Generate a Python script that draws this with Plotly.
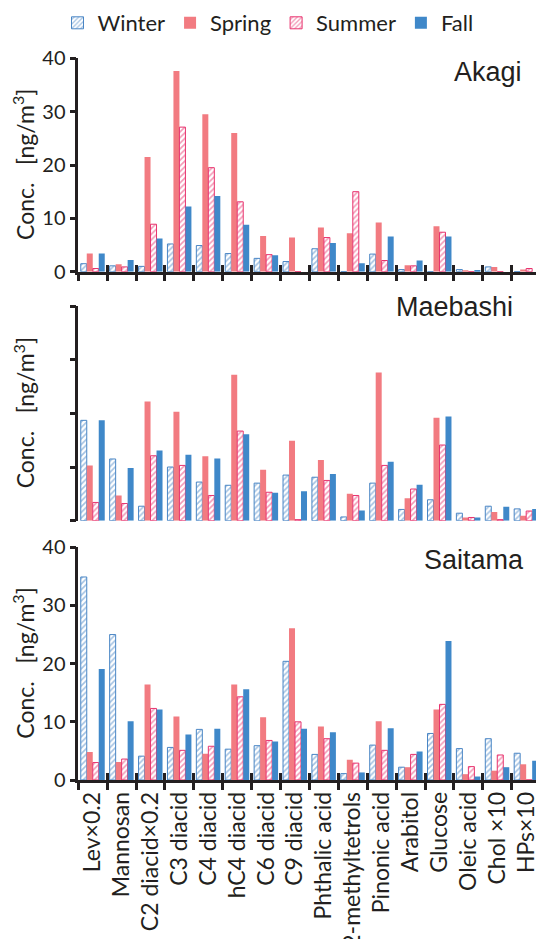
import plotly.graph_objects as go

categories = ["Lev×0.2", "Mannosan", "C2 diacid×0.2", "C3 diacid", "C4 diacid",
              "hC4 diacid", "C6 diacid", "C9 diacid", "Phthalic acid", "2-methyltetrols",
              "Pinonic acid", "Arabitol", "Glucose", "Oleic acid", "Chol ×10", "HPs×10"]
seasons = ["Winter", "Spring", "Summer", "Fall"]

akagi_winter = [1.5, 1.1, 1.0, 5.2, 4.9, 3.4, 2.5, 1.9, 4.3, 0.0, 3.3, 0.4, 0.0, 0.4, 0.9, 0.0]
akagi_spring = [3.4, 1.4, 21.5, 37.6, 29.5, 26.0, 6.7, 6.4, 8.3, 7.2, 9.2, 1.2, 8.5, 0.1, 0.9, 0.4]
akagi_summer = [0.6, 0.9, 8.9, 27.1, 19.5, 13.1, 3.2, 0.0, 6.4, 15.0, 2.1, 1.1, 7.4, 0.0, 0.0, 0.6]
akagi_fall = [3.4, 2.2, 6.2, 12.2, 14.2, 8.8, 3.1, 0.0, 5.4, 1.6, 6.6, 2.1, 6.6, 0.3, 0.0, 0.0]

maebashi_winter = [18.7, 11.5, 2.7, 10.0, 7.2, 6.6, 7.0, 8.5, 8.1, 0.7, 7.0, 2.1, 3.9, 1.4, 2.7, 2.2]
maebashi_spring = [10.3, 4.7, 22.2, 20.3, 12.0, 27.2, 9.5, 14.9, 11.3, 5.0, 27.6, 4.2, 19.2, 0.6, 1.6, 0.9]
maebashi_summer = [3.4, 3.2, 12.1, 10.3, 4.7, 16.7, 5.3, 0.2, 7.5, 4.7, 10.3, 5.9, 14.1, 0.6, 0.2, 1.8]
maebashi_fall = [18.7, 9.8, 13.1, 12.3, 11.6, 16.1, 5.2, 5.5, 8.7, 1.9, 11.0, 6.7, 19.4, 0.6, 2.6, 2.2]

saitama_winter = [34.9, 25.0, 4.1, 5.6, 8.7, 5.3, 5.9, 20.4, 4.4, 1.1, 6.0, 2.2, 8.0, 5.4, 7.1, 4.6]
saitama_spring = [4.8, 3.1, 16.4, 10.9, 4.5, 16.4, 10.8, 26.1, 9.2, 3.5, 10.1, 2.2, 12.1, 1.0, 1.6, 2.7]
saitama_summer = [3.0, 3.6, 12.3, 5.1, 5.8, 14.3, 6.8, 10.0, 7.1, 2.9, 5.1, 4.4, 13.0, 2.3, 4.3, 0.0]
saitama_fall = [19.1, 10.1, 12.1, 7.8, 8.8, 15.6, 6.6, 8.8, 8.2, 1.3, 8.9, 4.9, 23.9, 0.6, 2.2, 3.3]

y_ticks = [0, 10, 20, 30, 40]
site_names = ["Akagi", "Maebashi", "Saitama"]

panels = [
    (akagi_winter, akagi_spring, akagi_summer, akagi_fall),
    (maebashi_winter, maebashi_spring, maebashi_summer, maebashi_fall),
    (saitama_winter, saitama_spring, saitama_summer, saitama_fall),
]

WINTER_C = "#4A86C5"
SPRING_C = "#F27B81"
SUMMER_C = "#E8336E"
FALL_C = "#3F88C9"
INK = "#231F20"
FONT = "Lato"

def season_marker(season):
    if season == "Winter":
        return dict(color="white", line=dict(color=WINTER_C, width=1),
                    pattern=dict(shape="/", fgcolor=WINTER_C, bgcolor="white", size=4, solidity=0.4))
    if season == "Spring":
        return dict(color=SPRING_C, line=dict(width=0))
    if season == "Summer":
        return dict(color="white", line=dict(color=SUMMER_C, width=1),
                    pattern=dict(shape="/", fgcolor=SUMMER_C, bgcolor="white", size=4, solidity=0.4))
    return dict(color=FALL_C, line=dict(width=0))

fig = go.Figure()
axis_ids = [("x", "y"), ("x2", "y2"), ("x3", "y3")]
for p, vals in enumerate(panels):
    xa, ya = axis_ids[p]
    for s, season in enumerate(seasons):
        fig.add_trace(go.Bar(
            x=categories, y=vals[s], name=season, xaxis=xa, yaxis=ya,
            marker=season_marker(season), showlegend=(p == 0),
            legendgroup=season,
        ))

# helper traces for inner tick halves of x axes (top and bottom panels)
fig.add_trace(go.Scatter(x=categories, y=[None] * len(categories), xaxis="x4", yaxis="y",
                         showlegend=False, hoverinfo="skip", mode="markers"))
fig.add_trace(go.Scatter(x=categories, y=[None] * len(categories), xaxis="x5", yaxis="y3",
                         showlegend=False, hoverinfo="skip", mode="markers"))

W, H = 536, 939
x_dom = [78.3 / W, 1.0]
x_rng = [-0.5, 15.34]

def ydom(top_px, bot_px):
    return [1 - bot_px / H, 1 - top_px / H]

doms = [ydom(58.3, 271.7), ydom(306.0, 520.7), ydom(547.3, 780.0)]

xbase = dict(type="category", categoryorder="array", categoryarray=categories,
             domain=x_dom, range=x_rng, showgrid=False, zeroline=False,
             tickson="boundaries", linecolor=INK, linewidth=2.5,
             tickcolor=INK, tickwidth=2.5, ticklen=7, automargin=False,
             tickfont=dict(family=FONT, size=23, color=INK), tickangle=-90)

ybase = dict(range=[0, 40], tickvals=y_ticks, showgrid=False, zeroline=False,
             showline=True, linecolor=INK, linewidth=2.5, ticks="outside",
             tickcolor=INK, tickwidth=2.5, ticklen=6, automargin=False,
             tickfont=dict(family=FONT, size=20, color=INK))

fig.update_layout(
    xaxis=dict(xbase, anchor="y", showline=True, ticks="outside", showticklabels=False),
    xaxis2=dict(xbase, anchor="y2", showline=False, ticks="", showticklabels=False),
    xaxis3=dict(xbase, anchor="y3", showline=True, ticks="outside", showticklabels=True),
    xaxis4=dict(xbase, anchor="y", overlaying="x", showline=False, ticks="inside", showticklabels=False),
    xaxis5=dict(xbase, anchor="y3", overlaying="x3", showline=False, ticks="inside", showticklabels=False),
    yaxis=dict(ybase, domain=doms[0], anchor="x", showticklabels=True),
    yaxis2=dict(ybase, domain=doms[1], anchor="x2", showticklabels=False),
    yaxis3=dict(ybase, domain=doms[2], anchor="x3", showticklabels=True),
)

annotations = []
title_y = [71.7, 307.0, 560.0]
title_x = [524, 515, 526]
for p in range(3):
    annotations.append(dict(text=site_names[p], xref="paper", yref="paper",
                            x=title_x[p] / W, y=1 - title_y[p] / H, xanchor="right", yanchor="middle",
                            showarrow=False, font=dict(family="Liberation Sans", size=27, color=INK)))
    ymid = (doms[p][0] + doms[p][1]) / 2
    annotations.append(dict(text="Conc.\u00a0\u00a0\u00a0[ng/m<sup>3</sup>]", xref="paper", yref="paper",
                            x=24 / W, y=ymid, xanchor="center", yanchor="middle", textangle=-90,
                            showarrow=False, font=dict(family=FONT, size=23, color=INK)))

fig.update_layout(
    width=W, height=H, margin=dict(l=0, r=0, t=0, b=0, autoexpand=False),
    paper_bgcolor="white", plot_bgcolor="white",
    barmode="group", bargap=0.17, bargroupgap=0.0,
    annotations=annotations,
    legend=dict(orientation="h", x=0.5, xanchor="center", y=1 - 2 / H, yanchor="top",
                font=dict(family=FONT, size=22, color=INK), itemwidth=30,
                traceorder="normal", bgcolor="rgba(0,0,0,0)"),
)

fig.write_html("out.html")
